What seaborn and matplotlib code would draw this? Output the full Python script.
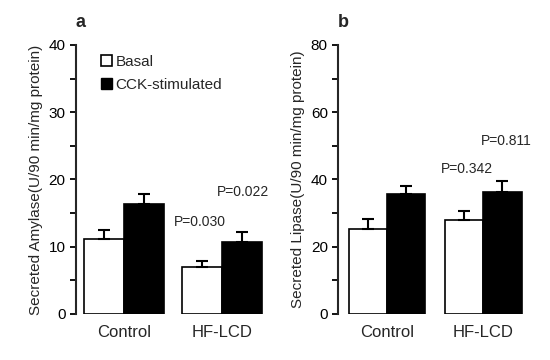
import pandas as pd
import numpy as np
import seaborn as sns
import matplotlib.pyplot as plt
from matplotlib.patches import Patch

# Data
groups = ["Control", "HF-LCD"]
conditions = ["Basal", "CCK-stimulated"]

amylase_basal = [11.1, 7.0]
amylase_cck = [16.4, 10.7]
amylase_basal_err = [1.4, 0.8]
amylase_cck_err = [1.5, 1.5]
amylase_p = ["P=0.030", "P=0.022"]

lipase_basal = [25.4, 27.9]
lipase_cck = [35.7, 36.4]
lipase_basal_err = [2.8, 2.8]
lipase_cck_err = [2.4, 3.1]
lipase_p = ["P=0.342", "P=0.811"]

sns.set_style("ticks")
plt.rcParams["font.family"] = ["Liberation Sans", "DejaVu Sans"]


def make_df(basal, cck):
    return pd.DataFrame({
        "group": groups * 2,
        "condition": [conditions[0]] * 2 + [conditions[1]] * 2,
        "value": list(basal) + list(cck),
    })


def plot_panel(ax, df, errs, ylim, major, minor, ylabel, letter, pvals,
               p_pos, width, xlim):
    sns.barplot(data=df, x="group", y="value", hue="condition",
                palette=["white", "black"], edgecolor="black", linewidth=1.2,
                errorbar=None, width=width, legend=False, ax=ax)
    for patch, err in zip(ax.patches, errs):
        xc = patch.get_x() + patch.get_width() / 2
        top = patch.get_height()
        ax.errorbar(xc, top, yerr=[[0], [err]], fmt="none", ecolor="black",
                    elinewidth=1.5, capsize=4, capthick=1.5)
    ax.set_ylim(*ylim)
    ax.set_xlim(*xlim)
    ax.set_yticks(np.arange(ylim[0], ylim[1] + 0.1, major))
    ax.set_yticks(np.arange(ylim[0], ylim[1] + 0.1, minor), minor=True)
    ax.tick_params(axis="y", which="both", direction="out", length=4,
                   width=1.3, labelsize=11, colors="black")
    ax.tick_params(axis="x", length=0, labelsize=12, pad=8)
    for s in ["top", "right", "bottom"]:
        ax.spines[s].set_visible(False)
    ax.spines["left"].set_linewidth(1.5)
    ax.set_xlabel("")
    ax.set_ylabel(ylabel, fontsize=11, labelpad=4)
    ax.text(0.0, 1.085, letter, transform=ax.transAxes, fontsize=13,
            fontweight="bold", ha="left", va="center")
    for txt, (x, y) in zip(pvals, p_pos):
        ax.text(x, y, txt, fontsize=10, ha="center", va="center")


fig = plt.figure(figsize=(5.5, 3.6), dpi=100)
ax1 = fig.add_axes([0.138, 0.128, 0.345, 0.747])
ax2 = fig.add_axes([0.615, 0.128, 0.342, 0.747])

plot_panel(ax1, make_df(amylase_basal, amylase_cck),
           amylase_basal_err + amylase_cck_err, (0, 40), 10, 5,
           "Secreted Amylase(U/90 min/mg protein)", "a", amylase_p,
           [(0.78, 13.7), (1.22, 18.2)], 0.815, (-0.495, 1.45))
plot_panel(ax2, make_df(lipase_basal, lipase_cck),
           lipase_basal_err + lipase_cck_err, (0, 80), 20, 10,
           "Secreted Lipase(U/90 min/mg protein)", "b", lipase_p,
           [(0.83, 43.2), (1.24, 51.5)], 0.80, (-0.508, 1.45))

handles = [Patch(facecolor="white", edgecolor="black", linewidth=1.2),
           Patch(facecolor="black", edgecolor="black")]
ax1.legend(handles, conditions, loc="upper left", bbox_to_anchor=(0.06, 1.015),
           frameon=False, fontsize=11, handlelength=0.7, handleheight=0.7,
           handletextpad=0.25, labelspacing=0.6)

fig.savefig("out.png", dpi=100)
